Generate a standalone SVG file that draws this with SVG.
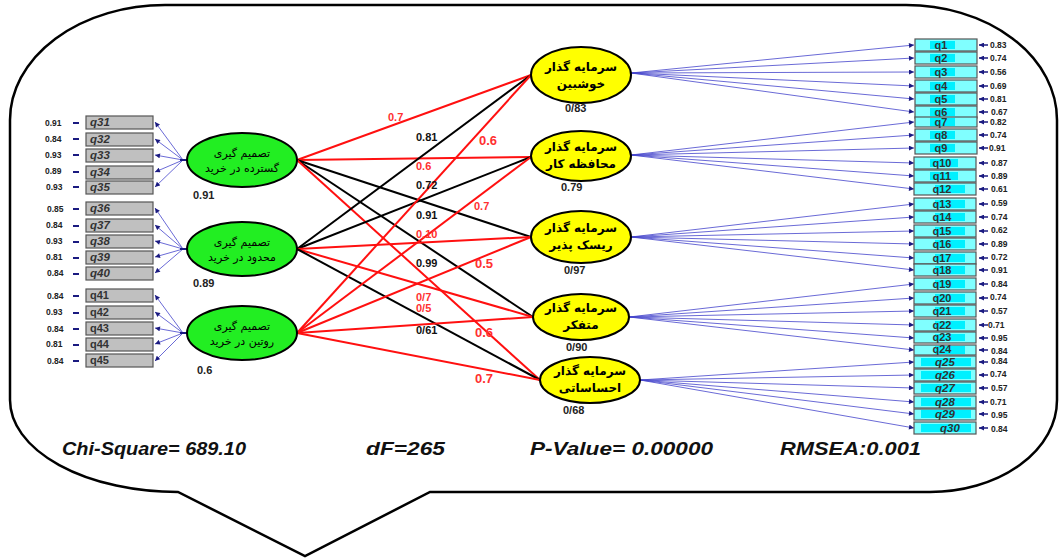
<svg xmlns="http://www.w3.org/2000/svg" width="1060" height="558" viewBox="0 0 1060 558">
<defs>
<marker id="ah" viewBox="0 0 6 6" refX="6" refY="3" markerWidth="6" markerHeight="5" markerUnits="userSpaceOnUse" orient="auto"><path d="M0,0 L6,3 L0,6 z" fill="#1a1a80"/></marker>
<style>
.bub{fill:#fff;stroke:#000;stroke-width:2.5}
.gb{fill:#c0c0c0;stroke:#555;stroke-width:1.2}
.cb{fill:#80ffff;stroke:#555;stroke-width:1.2}
.hl{fill:#00f0ff}
.gl{fill:#22ee22;stroke:#000;stroke-width:2}
.yl{fill:#ffff00;stroke:#000;stroke-width:2}
.ld{stroke:#4444cc;stroke-width:0.8;fill:none;marker-end:url(#ah)}
.ea{stroke:#1a1a80;stroke-width:1.5;fill:none;marker-end:url(#ah)}
.er{stroke:#1a1a80;stroke-width:2;fill:none}
.r{stroke:#ff1010;stroke-width:2;fill:none}
.k{stroke:#000;stroke-width:2;fill:none}
.qi{font-family:"Liberation Sans",Arial,sans-serif;font-size:11.5px;font-weight:bold;font-style:italic;fill:#333}
.qn{font-family:"Liberation Sans",Arial,sans-serif;font-size:11px;font-weight:bold;fill:#333}
.v{font-family:"Liberation Sans",Arial,sans-serif;font-size:8.5px;font-weight:bold;fill:#222}
.nl{font-family:"Liberation Sans",Arial,sans-serif;font-size:11px;font-weight:bold;fill:#222}
.ml{font-family:"Liberation Sans",Arial,sans-serif;font-size:11px;font-weight:bold}
.ms{font-family:"Liberation Sans",Arial,sans-serif;font-size:13px;font-weight:bold}
.fa{font-family:"DejaVu Sans",sans-serif;font-size:11px;text-anchor:middle;fill:#000}
.fy{font-family:"DejaVu Sans",sans-serif;font-size:12px;font-weight:bold;text-anchor:middle;fill:#000}
.st{font-family:"Liberation Sans",Arial,sans-serif;font-size:18px;font-weight:bold;font-style:italic;fill:#111}
</style>
</defs>
<path class="bub" d="M165,5 L905,5 A151,115 0 0 1 1057,120 L1057,400 A127,92 0 0 1 930,492 L430,492 L305,556 L178,492 A168,92 0 0 1 10,400 L10,120 A155,115 0 0 1 165,5 Z"/>

<g id="connectors">
<line class="ld" x1="183" y1="160" x2="155" y2="122"/>
<line class="ld" x1="183" y1="160" x2="155" y2="139"/>
<line class="ld" x1="183" y1="160" x2="155" y2="155"/>
<line class="ld" x1="183" y1="160" x2="155" y2="172"/>
<line class="ld" x1="183" y1="160" x2="155" y2="187"/>
<line class="ld" x1="183" y1="249" x2="155" y2="208"/>
<line class="ld" x1="183" y1="249" x2="155" y2="225"/>
<line class="ld" x1="183" y1="249" x2="155" y2="241"/>
<line class="ld" x1="183" y1="249" x2="155" y2="257"/>
<line class="ld" x1="183" y1="249" x2="155" y2="273"/>
<line class="ld" x1="183" y1="333" x2="155" y2="295"/>
<line class="ld" x1="183" y1="333" x2="155" y2="312"/>
<line class="ld" x1="183" y1="333" x2="155" y2="328"/>
<line class="ld" x1="183" y1="333" x2="155" y2="344"/>
<line class="ld" x1="183" y1="333" x2="155" y2="361"/>
<line class="er" x1="180" y1="160" x2="187" y2="160"/>
<line class="er" x1="180" y1="249" x2="187" y2="249"/>
<line class="er" x1="180" y1="333" x2="187" y2="333"/>
<g class="er">
<line x1="73" y1="123" x2="79" y2="123"/><line x1="73" y1="139" x2="79" y2="139"/><line x1="73" y1="155" x2="79" y2="155"/><line x1="73" y1="172" x2="79" y2="172"/><line x1="73" y1="187" x2="79" y2="187"/>
<line x1="73" y1="209" x2="79" y2="209"/><line x1="73" y1="226" x2="79" y2="226"/><line x1="73" y1="242" x2="79" y2="242"/><line x1="73" y1="258" x2="79" y2="258"/><line x1="73" y1="274" x2="79" y2="274"/>
<line x1="73" y1="296" x2="79" y2="296"/><line x1="73" y1="313" x2="79" y2="313"/><line x1="73" y1="329" x2="79" y2="329"/><line x1="73" y1="345" x2="79" y2="345"/><line x1="73" y1="361" x2="79" y2="361"/>
</g>
<line class="r" x1="297" y1="160" x2="531" y2="75"/>
<line class="r" x1="297" y1="160" x2="531" y2="157"/>
<line class="k" x1="297" y1="160" x2="531" y2="237"/>
<line class="k" x1="297" y1="160" x2="533" y2="317"/>
<line class="r" x1="297" y1="160" x2="540" y2="380"/>
<line class="k" x1="297" y1="249" x2="531" y2="75"/>
<line class="k" x1="297" y1="249" x2="531" y2="157"/>
<line class="r" x1="297" y1="249" x2="531" y2="237"/>
<line class="r" x1="297" y1="249" x2="533" y2="317"/>
<line class="k" x1="297" y1="249" x2="540" y2="380"/>
<line class="r" x1="297" y1="333" x2="531" y2="75"/>
<line class="r" x1="297" y1="333" x2="531" y2="157"/>
<line class="r" x1="297" y1="333" x2="531" y2="237"/>
<line class="r" x1="297" y1="333" x2="533" y2="317"/>
<line class="r" x1="297" y1="333" x2="540" y2="380"/>
<line class="ld" x1="631" y1="73" x2="914" y2="45"/>
<line class="ld" x1="631" y1="73" x2="914" y2="58"/>
<line class="ld" x1="631" y1="73" x2="914" y2="72"/>
<line class="ld" x1="631" y1="73" x2="914" y2="86"/>
<line class="ld" x1="631" y1="73" x2="914" y2="99"/>
<line class="ld" x1="631" y1="73" x2="914" y2="112"/>
<line class="ld" x1="631" y1="155" x2="914" y2="122"/>
<line class="ld" x1="631" y1="155" x2="914" y2="135"/>
<line class="ld" x1="631" y1="155" x2="914" y2="148"/>
<line class="ld" x1="631" y1="155" x2="914" y2="163"/>
<line class="ld" x1="631" y1="155" x2="914" y2="176"/>
<line class="ld" x1="631" y1="155" x2="914" y2="189"/>
<line class="ld" x1="631" y1="237" x2="914" y2="204"/>
<line class="ld" x1="631" y1="237" x2="914" y2="217"/>
<line class="ld" x1="631" y1="237" x2="914" y2="231"/>
<line class="ld" x1="631" y1="237" x2="914" y2="244"/>
<line class="ld" x1="631" y1="237" x2="914" y2="258"/>
<line class="ld" x1="631" y1="237" x2="914" y2="270"/>
<line class="ld" x1="629" y1="317" x2="914" y2="284"/>
<line class="ld" x1="629" y1="317" x2="914" y2="298"/>
<line class="ld" x1="629" y1="317" x2="914" y2="311"/>
<line class="ld" x1="629" y1="317" x2="914" y2="325"/>
<line class="ld" x1="629" y1="317" x2="914" y2="338"/>
<line class="ld" x1="629" y1="317" x2="914" y2="350"/>
<line class="ld" x1="640" y1="380" x2="914" y2="362"/>
<line class="ld" x1="640" y1="380" x2="914" y2="375"/>
<line class="ld" x1="640" y1="380" x2="914" y2="388"/>
<line class="ld" x1="640" y1="380" x2="914" y2="402"/>
<line class="ld" x1="640" y1="380" x2="914" y2="414"/>
<line class="ld" x1="640" y1="380" x2="914" y2="428"/>
<g class="ea">
<line x1="988" y1="45" x2="979" y2="45"/><line x1="988" y1="58" x2="979" y2="58"/><line x1="988" y1="72" x2="979" y2="72"/><line x1="988" y1="86" x2="979" y2="86"/><line x1="988" y1="99" x2="979" y2="99"/><line x1="988" y1="112" x2="979" y2="112"/>
<line x1="988" y1="122" x2="979" y2="122"/><line x1="988" y1="135" x2="979" y2="135"/><line x1="988" y1="148" x2="979" y2="148"/><line x1="988" y1="163" x2="979" y2="163"/><line x1="988" y1="176" x2="979" y2="176"/><line x1="988" y1="189" x2="979" y2="189"/>
<line x1="988" y1="204" x2="979" y2="204"/><line x1="988" y1="217" x2="979" y2="217"/><line x1="988" y1="231" x2="979" y2="231"/><line x1="988" y1="244" x2="979" y2="244"/><line x1="988" y1="258" x2="979" y2="258"/><line x1="988" y1="270" x2="979" y2="270"/>
<line x1="988" y1="284" x2="979" y2="284"/><line x1="988" y1="298" x2="979" y2="298"/><line x1="988" y1="311" x2="979" y2="311"/><line x1="988" y1="325" x2="979" y2="325"/><line x1="988" y1="338" x2="979" y2="338"/><line x1="988" y1="350" x2="979" y2="350"/>
<line x1="988" y1="362" x2="979" y2="362"/><line x1="988" y1="375" x2="979" y2="375"/><line x1="988" y1="388" x2="979" y2="388"/><line x1="988" y1="402" x2="979" y2="402"/><line x1="988" y1="414" x2="979" y2="414"/><line x1="988" y1="428" x2="979" y2="428"/>
</g>
</g>

<g id="path-labels">
<text class="ml" x="388" y="121" fill="#ff3030">0.7</text>
<text class="ml" x="416" y="141" fill="#111">0.81</text>
<text class="ms" x="479" y="145" fill="#ff3030">0.6</text>
<text class="ml" x="416" y="170" fill="#ff3030">0.6</text>
<text class="ml" x="416" y="189" fill="#111">0.72</text>
<text class="ml" x="474" y="210" fill="#ff3030">0.7</text>
<text class="ml" x="416" y="219" fill="#111">0.91</text>
<text class="ml" x="416" y="238" fill="#ff3030">0.10</text>
<text class="ml" x="416" y="267" fill="#111">0.99</text>
<text class="ms" x="475" y="268" fill="#ff3030">0.5</text>
<text class="ml" x="416" y="301" fill="#ff3030">0/7</text>
<text class="ml" x="416" y="312" fill="#ff3030">0/5</text>
<text class="ml" x="416" y="334" fill="#111">0/61</text>
<text class="ms" x="475" y="337" fill="#ff3030">0.6</text>
<text class="ms" x="475" y="383" fill="#ff3030">0.7</text>
</g>

<g id="G1"><ellipse class="gl" cx="242" cy="160" rx="55" ry="27"/><text class="fa" x="242" y="157">تصمیم گیری</text><text class="fa" x="242" y="172">گسترده در خرید</text><text class="nl" x="193" y="199">0.91</text></g>
<g id="G2"><ellipse class="gl" cx="242" cy="249" rx="55" ry="27"/><text class="fa" x="242" y="246">تصمیم گیری</text><text class="fa" x="242" y="261">محدود در خرید</text><text class="nl" x="193" y="287">0.89</text></g>
<g id="G3"><ellipse class="gl" cx="242" cy="333" rx="55" ry="27"/><text class="fa" x="242" y="330">تصمیم گیری</text><text class="fa" x="242" y="345">روتین در خرید</text><text class="nl" x="197" y="374">0.6</text></g>

<g id="Y1"><ellipse class="yl" cx="581" cy="75" rx="50" ry="28"/><text class="fy" x="581" y="71">سرمایه گذار</text><text class="fy" x="581" y="88">خوشبین</text><text class="nl" x="565" y="112">0/83</text></g>
<g id="Y2"><ellipse class="yl" cx="581" cy="156" rx="50" ry="25"/><text class="fy" x="581" y="151">سرمایه گذار</text><text class="fy" x="581" y="168">محافظه کار</text><text class="nl" x="561" y="191">0.79</text></g>
<g id="Y3"><ellipse class="yl" cx="581" cy="237" rx="50" ry="26"/><text class="fy" x="581" y="232">سرمایه گذار</text><text class="fy" x="581" y="249">ریسک پذیر</text><text class="nl" x="564" y="274">0/97</text></g>
<g id="Y4"><ellipse class="yl" cx="581" cy="317" rx="48" ry="23"/><text class="fy" x="581" y="312">سرمایه گذار</text><text class="fy" x="581" y="329">متفکر</text><text class="nl" x="566" y="351">0/90</text></g>
<g id="Y5"><ellipse class="yl" cx="590" cy="380" rx="50" ry="23"/><text class="fy" x="590" y="375">سرمایه گذار</text><text class="fy" x="590" y="392">احساساتی</text><text class="nl" x="563" y="414">0/68</text></g>

<g id="left-indicators">
<rect class="gb" x="86" y="116" width="67" height="13"/><text class="qi" x="90" y="126">q31</text><text class="v" x="45" y="126">0.91</text>
<rect class="gb" x="86" y="133" width="67" height="13"/><text class="qi" x="90" y="143">q32</text><text class="v" x="45" y="142">0.84</text>
<rect class="gb" x="86" y="149" width="67" height="13"/><text class="qi" x="90" y="159">q33</text><text class="v" x="45" y="158">0.93</text>
<rect class="gb" x="86" y="166" width="67" height="13"/><text class="qi" x="90" y="176">q34</text><text class="v" x="45" y="174">0.89</text>
<rect class="gb" x="86" y="181" width="67" height="13"/><text class="qi" x="90" y="191">q35</text><text class="v" x="46" y="190">0.93</text>
<rect class="gb" x="86" y="202" width="67" height="13"/><text class="qi" x="90" y="212">q36</text><text class="v" x="47" y="212">0.85</text>
<rect class="gb" x="86" y="219" width="67" height="13"/><text class="qi" x="90" y="229">q37</text><text class="v" x="46" y="228">0.84</text>
<rect class="gb" x="86" y="235" width="67" height="13"/><text class="qi" x="90" y="245">q38</text><text class="v" x="46" y="244">0.93</text>
<rect class="gb" x="86" y="251" width="67" height="13"/><text class="qi" x="90" y="261">q39</text><text class="v" x="46" y="260">0.81</text>
<rect class="gb" x="86" y="267" width="67" height="13"/><text class="qi" x="90" y="277">q40</text><text class="v" x="47" y="276">0.84</text>
<rect class="gb" x="86" y="289" width="67" height="13"/><text class="qn" x="90" y="299">q41</text><text class="v" x="47" y="299">0.84</text>
<rect class="gb" x="86" y="306" width="67" height="13"/><text class="qn" x="90" y="316">q42</text><text class="v" x="46" y="315">0.93</text>
<rect class="gb" x="86" y="322" width="67" height="13"/><text class="qn" x="90" y="332">q43</text><text class="v" x="47" y="332">0.84</text>
<rect class="gb" x="86" y="338" width="67" height="13"/><text class="qn" x="90" y="348">q44</text><text class="v" x="46" y="347">0.81</text>
<rect class="gb" x="86" y="354" width="67" height="13"/><text class="qn" x="90" y="364">q45</text><text class="v" x="47" y="364">0.84</text>
</g>

<g id="right-indicators" text-anchor="middle">
<rect class="cb" x="915" y="39" width="62" height="12"/><rect class="hl" x="930" y="41" width="25" height="8"/><text class="qn" x="941" y="49">q1</text><text class="v" x="990" y="48" text-anchor="start">0.83</text>
<rect class="cb" x="915" y="52" width="62" height="12"/><rect class="hl" x="930" y="54" width="25" height="8"/><text class="qn" x="941" y="62">q2</text><text class="v" x="990" y="61" text-anchor="start">0.74</text>
<rect class="cb" x="915" y="66" width="62" height="12"/><rect class="hl" x="930" y="68" width="25" height="8"/><text class="qn" x="941" y="76">q3</text><text class="v" x="990" y="75" text-anchor="start">0.56</text>
<rect class="cb" x="915" y="80" width="62" height="12"/><rect class="hl" x="930" y="82" width="25" height="8"/><text class="qn" x="941" y="90">q4</text><text class="v" x="990" y="89" text-anchor="start">0.69</text>
<rect class="cb" x="915" y="93" width="62" height="12"/><rect class="hl" x="930" y="95" width="25" height="8"/><text class="qn" x="941" y="103">q5</text><text class="v" x="990" y="102" text-anchor="start">0.81</text>
<rect class="cb" x="915" y="106" width="62" height="12"/><rect class="hl" x="930" y="108" width="25" height="8"/><text class="qn" x="941" y="116">q6</text><text class="v" x="991" y="115" text-anchor="start">0.67</text>
<rect class="cb" x="915" y="117" width="62" height="10"/><rect class="hl" x="930" y="118" width="25" height="8"/><text class="qn" x="941" y="126">q7</text><text class="v" x="990" y="125" text-anchor="start">0.82</text>
<rect class="cb" x="915" y="129" width="62" height="12"/><rect class="hl" x="930" y="131" width="25" height="8"/><text class="qn" x="941" y="139">q8</text><text class="v" x="990" y="138" text-anchor="start">0.74</text>
<rect class="cb" x="915" y="142" width="62" height="12"/><rect class="hl" x="930" y="144" width="25" height="8"/><text class="qn" x="941" y="152">q9</text><text class="v" x="989" y="151" text-anchor="start">0.91</text>
<rect class="cb" x="914" y="157" width="62" height="12"/><rect class="hl" x="930" y="159" width="28" height="8"/><text class="qn" x="942" y="167">q10</text><text class="v" x="991" y="166" text-anchor="start">0.87</text>
<rect class="cb" x="914" y="170" width="62" height="12"/><rect class="hl" x="930" y="172" width="28" height="8"/><text class="qn" x="942" y="180">q11</text><text class="v" x="991" y="179" text-anchor="start">0.89</text>
<rect class="cb" x="914" y="183" width="62" height="12"/><rect class="hl" x="935" y="185" width="30" height="8"/><text class="qn" x="942" y="193">q12</text><text class="v" x="991" y="192" text-anchor="start">0.61</text>
<rect class="cb" x="914" y="198" width="62" height="12"/><rect class="hl" x="935" y="200" width="30" height="8"/><text class="qn" x="942" y="208">q13</text><text class="v" x="991" y="206" text-anchor="start">0.59</text>
<rect class="cb" x="914" y="211" width="62" height="12"/><rect class="hl" x="935" y="213" width="30" height="8"/><text class="qn" x="942" y="221">q14</text><text class="v" x="991" y="220" text-anchor="start">0.74</text>
<rect class="cb" x="914" y="225" width="62" height="12"/><rect class="hl" x="935" y="227" width="30" height="8"/><text class="qn" x="942" y="235">q15</text><text class="v" x="991" y="233" text-anchor="start">0.62</text>
<rect class="cb" x="914" y="238" width="62" height="12"/><rect class="hl" x="935" y="240" width="30" height="8"/><text class="qn" x="942" y="248">q16</text><text class="v" x="991" y="247" text-anchor="start">0.89</text>
<rect class="cb" x="914" y="252" width="62" height="12"/><rect class="hl" x="935" y="254" width="30" height="8"/><text class="qn" x="942" y="262">q17</text><text class="v" x="991" y="260" text-anchor="start">0.72</text>
<rect class="cb" x="914" y="264" width="62" height="12"/><rect class="hl" x="935" y="266" width="30" height="8"/><text class="qn" x="942" y="274">q18</text><text class="v" x="991" y="273" text-anchor="start">0.91</text>
<rect class="cb" x="914" y="278" width="62" height="12"/><rect class="hl" x="935" y="280" width="30" height="8"/><text class="qn" x="942" y="288">q19</text><text class="v" x="991" y="287" text-anchor="start">0.84</text>
<rect class="cb" x="914" y="292" width="62" height="12"/><rect class="hl" x="935" y="294" width="30" height="8"/><text class="qn" x="942" y="302">q20</text><text class="v" x="990" y="300" text-anchor="start">0.74</text>
<rect class="cb" x="914" y="305" width="62" height="12"/><rect class="hl" x="935" y="307" width="30" height="8"/><text class="qn" x="942" y="315">q21</text><text class="v" x="991" y="314" text-anchor="start">0.57</text>
<rect class="cb" x="914" y="319" width="62" height="12"/><rect class="hl" x="935" y="321" width="30" height="8"/><text class="qn" x="942" y="329">q22</text><text class="v" x="988" y="328" text-anchor="start">0.71</text>
<rect class="cb" x="914" y="332" width="62" height="11"/><rect class="hl" x="935" y="334" width="30" height="7"/><text class="qn" x="942" y="341">q23</text><text class="v" x="991" y="341" text-anchor="start">0.95</text>
<rect class="cb" x="914" y="345" width="62" height="10"/><rect class="hl" x="935" y="346" width="30" height="8"/><text class="qn" x="942" y="353">q24</text><text class="v" x="991" y="354" text-anchor="start">0.84</text>
<rect class="cb" x="914" y="356" width="62" height="12"/><rect class="hl" x="921" y="358" width="50" height="8"/><text class="qi" x="945" y="366">q25</text><text class="v" x="991" y="364" text-anchor="start">0.84</text>
<rect class="cb" x="914" y="369" width="62" height="12"/><rect class="hl" x="921" y="371" width="50" height="8"/><text class="qi" x="945" y="379">q26</text><text class="v" x="990" y="377" text-anchor="start">0.74</text>
<rect class="cb" x="914" y="382" width="62" height="12"/><rect class="hl" x="921" y="384" width="50" height="8"/><text class="qi" x="945" y="392">q27</text><text class="v" x="991" y="391" text-anchor="start">0.57</text>
<rect class="cb" x="914" y="396" width="62" height="12"/><rect class="hl" x="921" y="398" width="50" height="8"/><text class="qi" x="945" y="406">q28</text><text class="v" x="990" y="405" text-anchor="start">0.71</text>
<rect class="cb" x="914" y="409" width="62" height="11"/><rect class="hl" x="921" y="410" width="50" height="8"/><text class="qi" x="945" y="418">q29</text><text class="v" x="991" y="418" text-anchor="start">0.95</text>
<rect class="cb" x="914" y="422" width="62" height="12"/><rect class="hl" x="921" y="424" width="50" height="8"/><text class="qi" x="950" y="432">q30</text><text class="v" x="991" y="432" text-anchor="start">0.84</text>
</g>

<g id="fit-stats">
<text class="st" x="62" y="455" textLength="184" lengthAdjust="spacingAndGlyphs">Chi-Square= 689.10</text>
<text class="st" x="366" y="455" textLength="79" lengthAdjust="spacingAndGlyphs">dF=265</text>
<text class="st" x="530" y="455" textLength="183" lengthAdjust="spacingAndGlyphs">P-Value= 0.00000</text>
<text class="st" x="780" y="455" textLength="141" lengthAdjust="spacingAndGlyphs">RMSEA:0.001</text>
</g>
</svg>
